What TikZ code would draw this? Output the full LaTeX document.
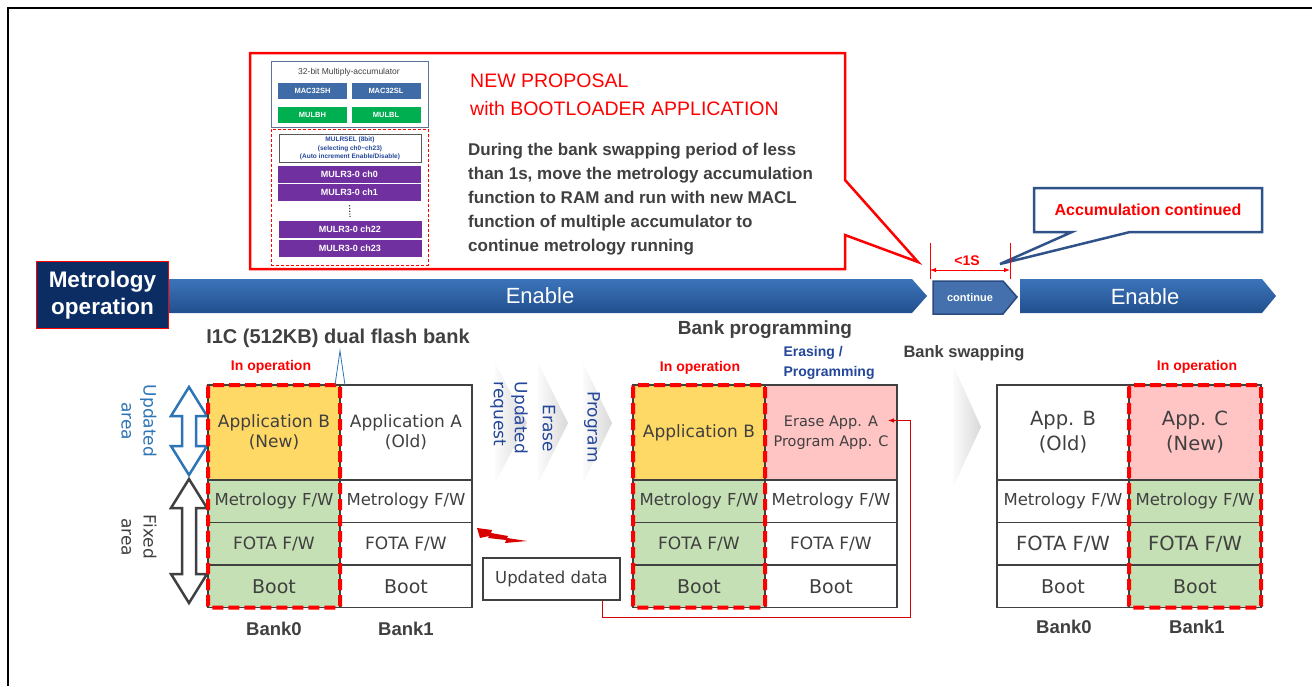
\documentclass[tikz,border=0pt]{standalone}
\usepackage{fontspec}
\setmainfont{Liberation Sans}
\newfontfamily\cellfont{DejaVu Sans}
\usetikzlibrary{arrows.meta, positioning, calc}

\definecolor{alarmred}{HTML}{FF0000}
\definecolor{textgray}{HTML}{404040}
\definecolor{cellgray}{HTML}{404040}
\definecolor{appyellow}{HTML}{FFD966}
\definecolor{fwgreen}{HTML}{C5E0B4}
\definecolor{apppink}{HTML}{FFC4C4}
\definecolor{bartop}{HTML}{3B73BA}
\definecolor{barbottom}{HTML}{22508E}
\definecolor{navy}{HTML}{0B2D64}
\definecolor{contfill}{HTML}{4470AD}
\definecolor{contedge}{HTML}{2A4A80}
\definecolor{areablue}{HTML}{2E75B6}
\definecolor{stepblue}{HTML}{24479A}
\definecolor{calloutblue}{HTML}{2F5288}
\definecolor{macblue}{HTML}{3F6BA6}
\definecolor{macgreen}{HTML}{00B050}
\definecolor{macpurple}{HTML}{7030A0}
\definecolor{macframe}{HTML}{5A7398}

\tikzset{
  cell/.style={draw=cellgray, line width=1.4pt, outer sep=0pt, inner sep=0pt,
    minimum width=132pt, align=center, text=textgray,
    font=\cellfont\fontsize{17}{20}\selectfont},
  approw/.style={cell, minimum height=95pt},
  fwrow/.style={cell, minimum height=42.5pt},
  metrow/.style={fwrow, font=\cellfont\fontsize{16.5}{20}\selectfont},
  bootrow/.style={fwrow, font=\cellfont\fontsize{19}{22}\selectfont},
  opframe/.style={draw=alarmred, line width=4pt, dash pattern=on 11pt off 5pt, rounded corners=2pt},
  oplabel/.style={text=alarmred, font=\bfseries\fontsize{14}{16}\selectfont},
  banklabel/.style={text=textgray, font=\bfseries\fontsize{18.5}{20}\selectfont},
  heading/.style={text=textgray, font=\bfseries\fontsize{19}{22}\selectfont},
  bartext/.style={text=white, font=\fontsize{22}{24}\selectfont},
  steptext/.style={rotate=-90, text=stepblue, align=left, font=\cellfont\fontsize{17}{21}\selectfont},
  arealabel/.style={rotate=-90, align=center, font=\cellfont\fontsize{17}{22}\selectfont},
  chevron/.style={left color=gray!3, right color=gray!30},
  macreg/.style={minimum width=69pt, minimum height=16pt, inner sep=0pt, text=white,
    font=\bfseries\fontsize{7.5}{9}\selectfont},
  mulreg/.style={minimum width=143pt, minimum height=17pt, inner sep=0pt, fill=macpurple,
    text=white, font=\bfseries\fontsize{9}{10}\selectfont},
  redlink/.style={draw=alarmred!85!black, line width=0.9pt},
  dimline/.style={draw=alarmred, line width=0.8pt}
}

\begin{document}
\begin{tikzpicture}[x=1pt, y=-1pt, >=Latex]
\useasboundingbox (0,0) rectangle (1312,686);
\fill[white] (0,0) rectangle (1312,686);
% frame
\draw[line width=2.5pt] (8,686) -- (8,8) -- (1312,8);

% proposal callout
\draw[alarmred, line width=2.5pt, line join=miter] (250,53) -- (845,53) -- (845,180) -- (918,262) -- (845,235) -- (845,269) -- (250,269) -- cycle;
\node[draw=macframe, line width=1pt, minimum width=157pt, minimum height=66pt, inner sep=0pt, anchor=north west] (macbox) at (271,61) {};
\node[text=textgray, font=\fontsize{8.5}{10}\selectfont] (mactitle) at (349,72) {32-bit Multiply-accumulator};
\node[macreg, fill=macblue] (mac32sh) at (312.5,91) {MAC32SH};
\node[macreg, fill=macblue] (mac32sl) at (386,91) {MAC32SL};
\node[macreg, fill=macgreen] (mulbh) at (312.5,115) {MULBH};
\node[macreg, fill=macgreen] (mulbl) at (386,115) {MULBL};
\node[draw=alarmred, densely dashed, line width=0.8pt, minimum width=157pt, minimum height=136pt, inner sep=0pt, anchor=north west] (mulrbox) at (271,129) {};
\node[draw=gray!70!black, line width=1pt, minimum width=142pt, minimum height=28pt, inner sep=0pt, align=center,
  text=stepblue, font=\bfseries\fontsize{6.5}{8.5}\selectfont] (mulrsel) at (350,148.5)
  {MULRSEL (8bit)\\(selecting ch0\textasciitilde ch23)\\(Auto increment Enable/Disable)};
\node[mulreg] (ch0) at (349.5,174.5) {MULR3-0 ch0};
\node[mulreg] (ch1) at (349.5,192.5) {MULR3-0 ch1};
\node[mulreg] (ch22) at (350,229.5) {MULR3-0 ch22};
\node[mulreg] (ch23) at (350,248) {MULR3-0 ch23};
\draw[textgray, line width=1.2pt, dash pattern=on 1.2pt off 1.5pt] ([yshift=-4pt]ch1.south) -- ([yshift=4pt]ch22.north);

\node[anchor=north west, align=left, inner sep=0pt, text=alarmred, font=\fontsize{19.5}{28}\selectfont] (proposal) at (470,74)
  {NEW PROPOSAL\\with BOOTLOADER APPLICATION};
\node[anchor=north west, align=left, inner sep=0pt, text=textgray, font=\bfseries\fontsize{17}{24}\selectfont] (story) at (468,143)
  {During the bank swapping period of less\\than 1s, move the metrology accumulation\\function to RAM and run with new MACL\\function of multiple accumulator to\\continue metrology running};

% accumulation callout
\draw[calloutblue, line width=2.5pt, fill=white, line join=miter] (1034,188) -- (1262,188) -- (1262,232) -- (1130,232) -- (1000,264) -- (1072,232) -- (1034,232) -- cycle;
\node[text=alarmred, font=\bfseries\fontsize{16}{18}\selectfont] (accum) at (1148,210) {Accumulation continued};

% timing marks
\coordinate (dimL) at (930,270);
\coordinate (dimR) at (1010,270);
\draw[dimline] (930,243) -- (930,279);
\draw[dimline] (1010,243) -- (1010,279);
\draw[dimline, {Latex[length=6pt]}-{Latex[length=6pt]}] (dimL) -- (dimR);
\node[text=alarmred, font=\bfseries\fontsize{14}{16}\selectfont] (lessone) at (967,261) {<1S};

% metrology operation bar
\shade[top color=bartop, bottom color=barbottom] (168,279) -- (912,279) -- (927,296) -- (912,313) -- (168,313) -- cycle;
\node[fill=navy, draw=alarmred, line width=1pt, minimum width=132pt, minimum height=67pt, inner sep=0pt, anchor=north west,
  align=center, text=white, font=\bfseries\fontsize{22.5}{27}\selectfont] (metro) at (36,261) {Metrology\\operation};
\node[bartext] (enable1) at (540,296) {Enable};
\draw[fill=contfill, draw=contedge, line width=1.5pt] (933,281) -- (1003,281) -- (1017,297) -- (1003,314) -- (933,314) -- cycle;
\node[text=white, font=\bfseries\fontsize{11}{12}\selectfont] (cont) at (970,298) {continue};
\shade[top color=bartop, bottom color=barbottom] (1020,279) -- (1262,279) -- (1276,296) -- (1262,313) -- (1020,313) -- cycle;
\node[bartext] (enable2) at (1145,297) {Enable};

% area arrows
\node[arealabel, text=areablue] (updarea) at (139,421) {Updated\\area};
\node[arealabel, text=textgray] (fixarea) at (139,537) {Fixed\\area};
\draw[areablue, line width=2.5pt, fill=white, line join=miter] (189,387) -- (207,416) -- (196,416) -- (196,446) -- (207,446) -- (189,475)
  -- (171,446) -- (182,446) -- (182,416) -- (171,416) -- cycle;
\draw[textgray, line width=2.5pt, fill=white, line join=miter] (189,479) -- (207,508) -- (196,508) -- (196,574) -- (207,574) -- (189,603)
  -- (171,574) -- (182,574) -- (182,508) -- (171,508) -- cycle;

% flash banks before update
\node[heading, font=\bfseries\fontsize{20}{22}\selectfont] (flashtitle) at (338,338) {I1C (512KB) dual flash bank};
\node[approw, fill=appyellow, anchor=north west] (a0app) at (208,385) {Application B\\(New)};
\node[metrow, fill=fwgreen, below=0pt of a0app] (a0met) {Metrology F/W};
\node[fwrow, fill=fwgreen, below=0pt of a0met] (a0fota) {FOTA F/W};
\node[bootrow, fill=fwgreen, below=0pt of a0fota] (a0boot) {Boot};
\node[approw, right=0pt of a0app] (a1app) {Application A\\(Old)};
\node[metrow, below=0pt of a1app] (a1met) {Metrology F/W};
\node[fwrow, below=0pt of a1met] (a1fota) {FOTA F/W};
\node[bootrow, below=0pt of a1fota] (a1boot) {Boot};
\draw[opframe] (a0app.north west) rectangle (a0boot.south east);
\draw[areablue, line width=0.8pt] ([xshift=-5pt]a0app.north east) -- (flashtitle.south -| a0app.north east) -- ([xshift=5pt]a0app.north east);
\node[oplabel] (a0op) at (271,367) {In operation};
\node[banklabel] (a0lab) at (274,629) {Bank0};
\node[banklabel] (a1lab) at (406,629) {Bank1};

% update steps
\shade[chevron] (495,363) -- (527,423) -- (495,483) -- cycle;
\shade[chevron] (538,363) -- (568,423) -- (538,483) -- cycle;
\shade[chevron] (583,363) -- (612,423) -- (583,483) -- cycle;
\node[steptext] (request) at (509,418) {Updated\\request};
\node[steptext] (erase) at (549,428) {Erase};
\node[steptext] (program) at (592,427) {Program};
\fill[alarmred!85!black] (477,528) -- (492,530) -- (491,533) -- (508,536) -- (507,538) -- (527,541) -- (505,543) -- (506,540)
  -- (488,538) -- (489,536) -- (480,538) -- cycle;
\node[draw=cellgray, line width=1.2pt, minimum width=137pt, minimum height=42pt, inner sep=0pt, text=textgray,
  font=\cellfont\fontsize{16.5}{20}\selectfont] (upddata) at (551.5,579) {Updated data};

% bank programming
\node[heading] (progtitle) at (765,330) {Bank programming};
\node[approw, fill=appyellow, anchor=north west] (b0app) at (633,385) {Application B};
\node[metrow, fill=fwgreen, below=0pt of b0app] (b0met) {Metrology F/W};
\node[fwrow, fill=fwgreen, below=0pt of b0met] (b0fota) {FOTA F/W};
\node[bootrow, fill=fwgreen, below=0pt of b0fota] (b0boot) {Boot};
\node[approw, fill=apppink, right=0pt of b0app, font=\cellfont\fontsize{14.5}{20}\selectfont] (b1app) {Erase App. A\\Program App. C};
\node[metrow, below=0pt of b1app] (b1met) {Metrology F/W};
\node[fwrow, below=0pt of b1met] (b1fota) {FOTA F/W};
\node[bootrow, below=0pt of b1fota] (b1boot) {Boot};
\draw[opframe] (b0app.north west) rectangle (b0boot.south east);
\node[oplabel] (b0op) at (700,368) {In operation};
\node[anchor=west, align=left, text=stepblue, font=\bfseries\fontsize{14}{20}\selectfont] (b1op) at (780,363) {Erasing /\\Programming};
\coordinate (feed) at (910,617);
\draw[redlink, -{Latex[length=6pt]}] ([xshift=-18pt]upddata.south east) |- (feed) |- ([xshift=-9pt, yshift=12pt]b1app.east);

% bank swapping
\node[heading, font=\bfseries\fontsize{16.5}{20}\selectfont] (swaptitle) at (964,353) {Bank swapping};
\shade[chevron] (953,365) -- (981,427) -- (953,487) -- cycle;
\node[approw, anchor=north west, font=\cellfont\fontsize{19.5}{25}\selectfont] (c0app) at (997,385) {App. B\\(Old)};
\node[metrow, below=0pt of c0app] (c0met) {Metrology F/W};
\node[fwrow, below=0pt of c0met, font=\cellfont\fontsize{19.5}{22}\selectfont] (c0fota) {FOTA F/W};
\node[bootrow, below=0pt of c0fota] (c0boot) {Boot};
\node[approw, fill=apppink, right=0pt of c0app, font=\cellfont\fontsize{19.5}{25}\selectfont] (c1app) {App. C\\(New)};
\node[metrow, fill=fwgreen, below=0pt of c1app] (c1met) {Metrology F/W};
\node[fwrow, fill=fwgreen, below=0pt of c1met, font=\cellfont\fontsize{19.5}{22}\selectfont] (c1fota) {FOTA F/W};
\node[bootrow, fill=fwgreen, below=0pt of c1fota] (c1boot) {Boot};
\draw[opframe] (c1app.north west) rectangle (c1boot.south east);
\node[oplabel] (c1op) at (1197,367) {In operation};
\node[banklabel] (c0lab) at (1064,627) {Bank0};
\node[banklabel] (c1lab) at (1197,627) {Bank1};
\end{tikzpicture}
\end{document}
